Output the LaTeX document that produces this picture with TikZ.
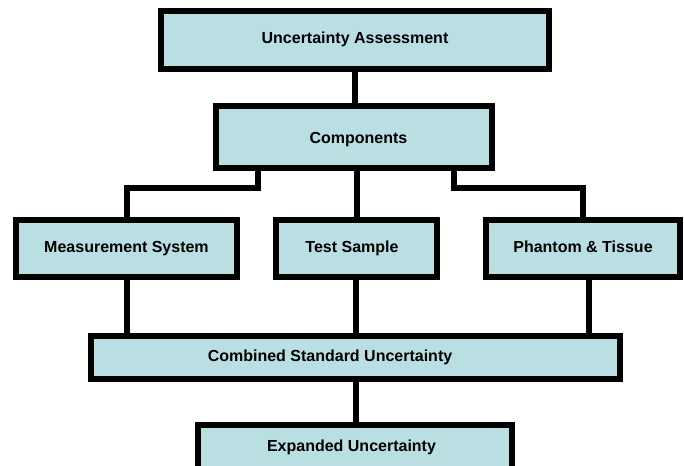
\documentclass[tikz,border=0pt]{standalone}
\usepackage{fontspec}
\setmainfont{Liberation Sans}
\usepackage{xcolor}
\usepackage{tikz}
\usetikzlibrary{positioning, calc}
\definecolor{uaFill}{RGB}{185, 223, 227}
\definecolor{uaLine}{RGB}{0, 0, 0}
\tikzset{
    base/.style={
        font=\fontsize{16}{18}\selectfont\bfseries,
        align=center
    },
    stage/.style={
        base,
        rectangle,
        draw=uaLine,
        line width=6pt,
        fill=uaFill,
        text=black,
        inner sep=0pt,
        text height=11.5pt,
        text depth=3.5pt
    },
    link/.style={
        line width=6pt,
        color=uaLine
    }
}
\begin{document}
\begin{tikzpicture}[x=1pt, y=-1pt, line join=miter]
    \useasboundingbox (0,0) rectangle (684,465);
    \clip (0,0) rectangle (684,465);

    % Nodes
    \node[stage, minimum width=388pt, minimum height=58pt, text depth=5pt] (UA) at (355,40) {Uncertainty Assessment};
    \node[stage, minimum width=276pt, minimum height=62pt, text height=17.5pt] (Comp) at (354,137) {\hspace*{9pt}Components};
    \node[stage, minimum width=221pt, minimum height=57pt] (MS) at (126.5,248.5) {Measurement System};
    \node[stage, minimum width=161pt, minimum height=57pt] (TS) at (356.5,248.5) {Test Sample\hspace*{9pt}};
    \node[stage, minimum width=194pt, minimum height=57pt] (PT) at (583,248.5) {Phantom \& Tissue};
    \node[stage, minimum width=529pt, minimum height=43pt] (CSU) at (355.5,357.5) {Combined Standard Uncertainty\hspace*{51pt}};
    \node[stage, minimum width=314pt, minimum height=50pt, text depth=9.5pt] (EU) at (355,450) {Expanded Uncertainty\hspace*{7pt}};

    % Bend points
    \coordinate (lsplit) at (258,188);
    \coordinate (rsplit) at (454,188);
    \coordinate (rdrop) at (589,300);

    % Connectors
    \draw[link] (UA.south) -- (UA.south |- Comp.north);
    \draw[link] (Comp.south -| lsplit) -- (lsplit) -| (MS.north);
    \draw[link] (Comp.south -| TS.north) -- (TS.north);
    \draw[link] (Comp.south -| rsplit) -- (rsplit) -| (PT.north);
    \draw[link] (MS.south) -- (MS.south |- CSU.north);
    \draw[link] (TS.south -| CSU.north) -- (CSU.north);
    \draw[link] (PT.south -| rdrop) -- (CSU.north -| rdrop);
    \draw[link] (CSU.south) -- (CSU.south |- EU.north);
\end{tikzpicture}
\end{document}
